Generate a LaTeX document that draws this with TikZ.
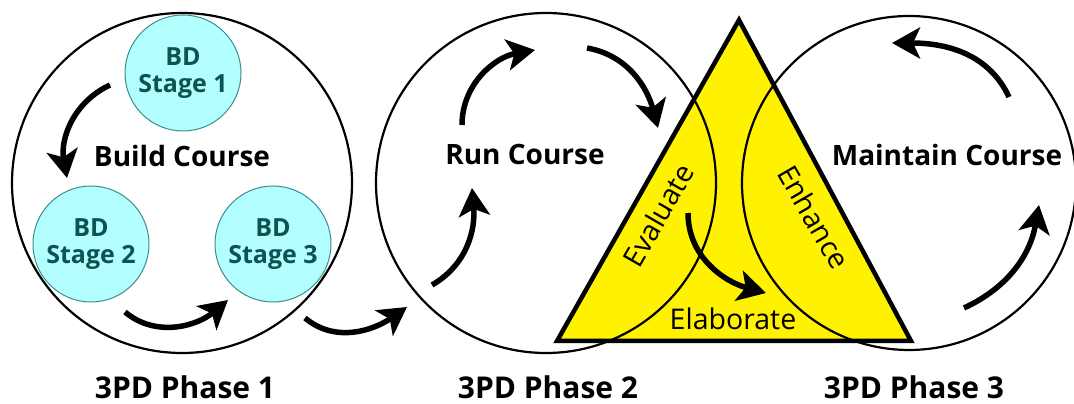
\documentclass[tikz,border=0pt]{standalone}
\usepackage{fontspec}
\setmainfont{Open Sans}
\usepackage{tikz}
\usetikzlibrary{arrows.meta}
\definecolor{stagefill}{HTML}{B3FFFF}
\definecolor{stageline}{HTML}{3C8C8C}
\definecolor{stagetext}{HTML}{0E5252}

\begin{document}
\begin{tikzpicture}[x=1pt,y=1pt,
  phase/.style={draw,line width=2.2pt,circle,minimum size=340pt,inner sep=0pt},
  stage/.style={draw=stageline,line width=1pt,fill=stagefill,circle,minimum size=116pt,inner sep=0pt,align=center,text=stagetext,font=\bfseries\fontsize{25}{27}\selectfont},
  course/.style={font=\bfseries\fontsize{28}{30}\selectfont},
  title/.style={font=\bfseries\fontsize{30}{32}\selectfont},
  side/.style={font=\fontsize{28.5}{30}\selectfont},
  cyc/.style={line width=5.5pt,-{Stealth[length=28pt,width=31pt,inset=7pt]}}]
\useasboundingbox (0,0) rectangle (1074,404);
\coordinate (tl) at (557,63);
\coordinate (tr) at (911,63);
\coordinate (tt) at (739,384);
\draw[line width=4.5pt,fill=yellow] (tl)--(tr)--(tt)--cycle;
\node[stage] (s1) at (183,331) {BD\\Stage 1};
\node[stage] (s2) at (91,160) {BD\\Stage 2};
\node[stage] (s3) at (273,160) {BD\\Stage 3};
\node[phase] (p1) at (182,221) {};
\node[phase] (p2) at (546,221) {};
\node[phase,minimum size=334pt] (p3) at (909,221) {};
\node[course] (build) at (182,248) {Build Course};
\node[course] (run) at (525,249) {Run Course};
\node[course] (keep) at (947,249) {Maintain Course};
\node[title] (t1) at (185,17) {3PD Phase 1};
\node[title] (t2) at (548,17) {3PD Phase 2};
\node[title] (t3) at (914,17) {3PD Phase 3};
\node[side,rotate=60] (eval) at (658,189) {Evaluate};
\node[side,rotate=-60] (enh) at (814,187) {Enhance};
\node[side] (elab) at (733,85) {Elaborate};
\coordinate (a1) at (110,319); \coordinate (b1) at (67,226);
\coordinate (a2) at (125,92); \coordinate (b2) at (228,104);
\coordinate (a3) at (305,86); \coordinate (b3) at (407,97);
\coordinate (a4) at (432,119); \coordinate (b4) at (472,216);
\coordinate (a5) at (462,279); \coordinate (b5) at (535,354);
\coordinate (a6) at (587,356); \coordinate (b6) at (658,276);
\coordinate (a7) at (688,191); \coordinate (b7) at (766,111);
\coordinate (a8) at (1009,307); \coordinate (b8) at (892,361);
\coordinate (a9) at (964,96); \coordinate (b9) at (1039,199);
\draw[cyc] (a1) to[out=205,in=100] (b1);
\draw[cyc] (a2) to[out=-40,in=220] (b2);
\draw[cyc] (a3) to[out=-40,in=215] (b3);
\draw[cyc] (a4) to[out=30,in=-85] (b4);
\draw[cyc] (a5) to[out=90,in=190] (b5);
\draw[cyc] (a6) to[out=-10,in=105] (b6);
\draw[cyc] (a7) to[out=-90,in=165] (b7);
\draw[cyc] (a8) to[out=115,in=0] (b8);
\draw[cyc] (a9) to[out=25,in=-100] (b9);
\end{tikzpicture}
\end{document}
